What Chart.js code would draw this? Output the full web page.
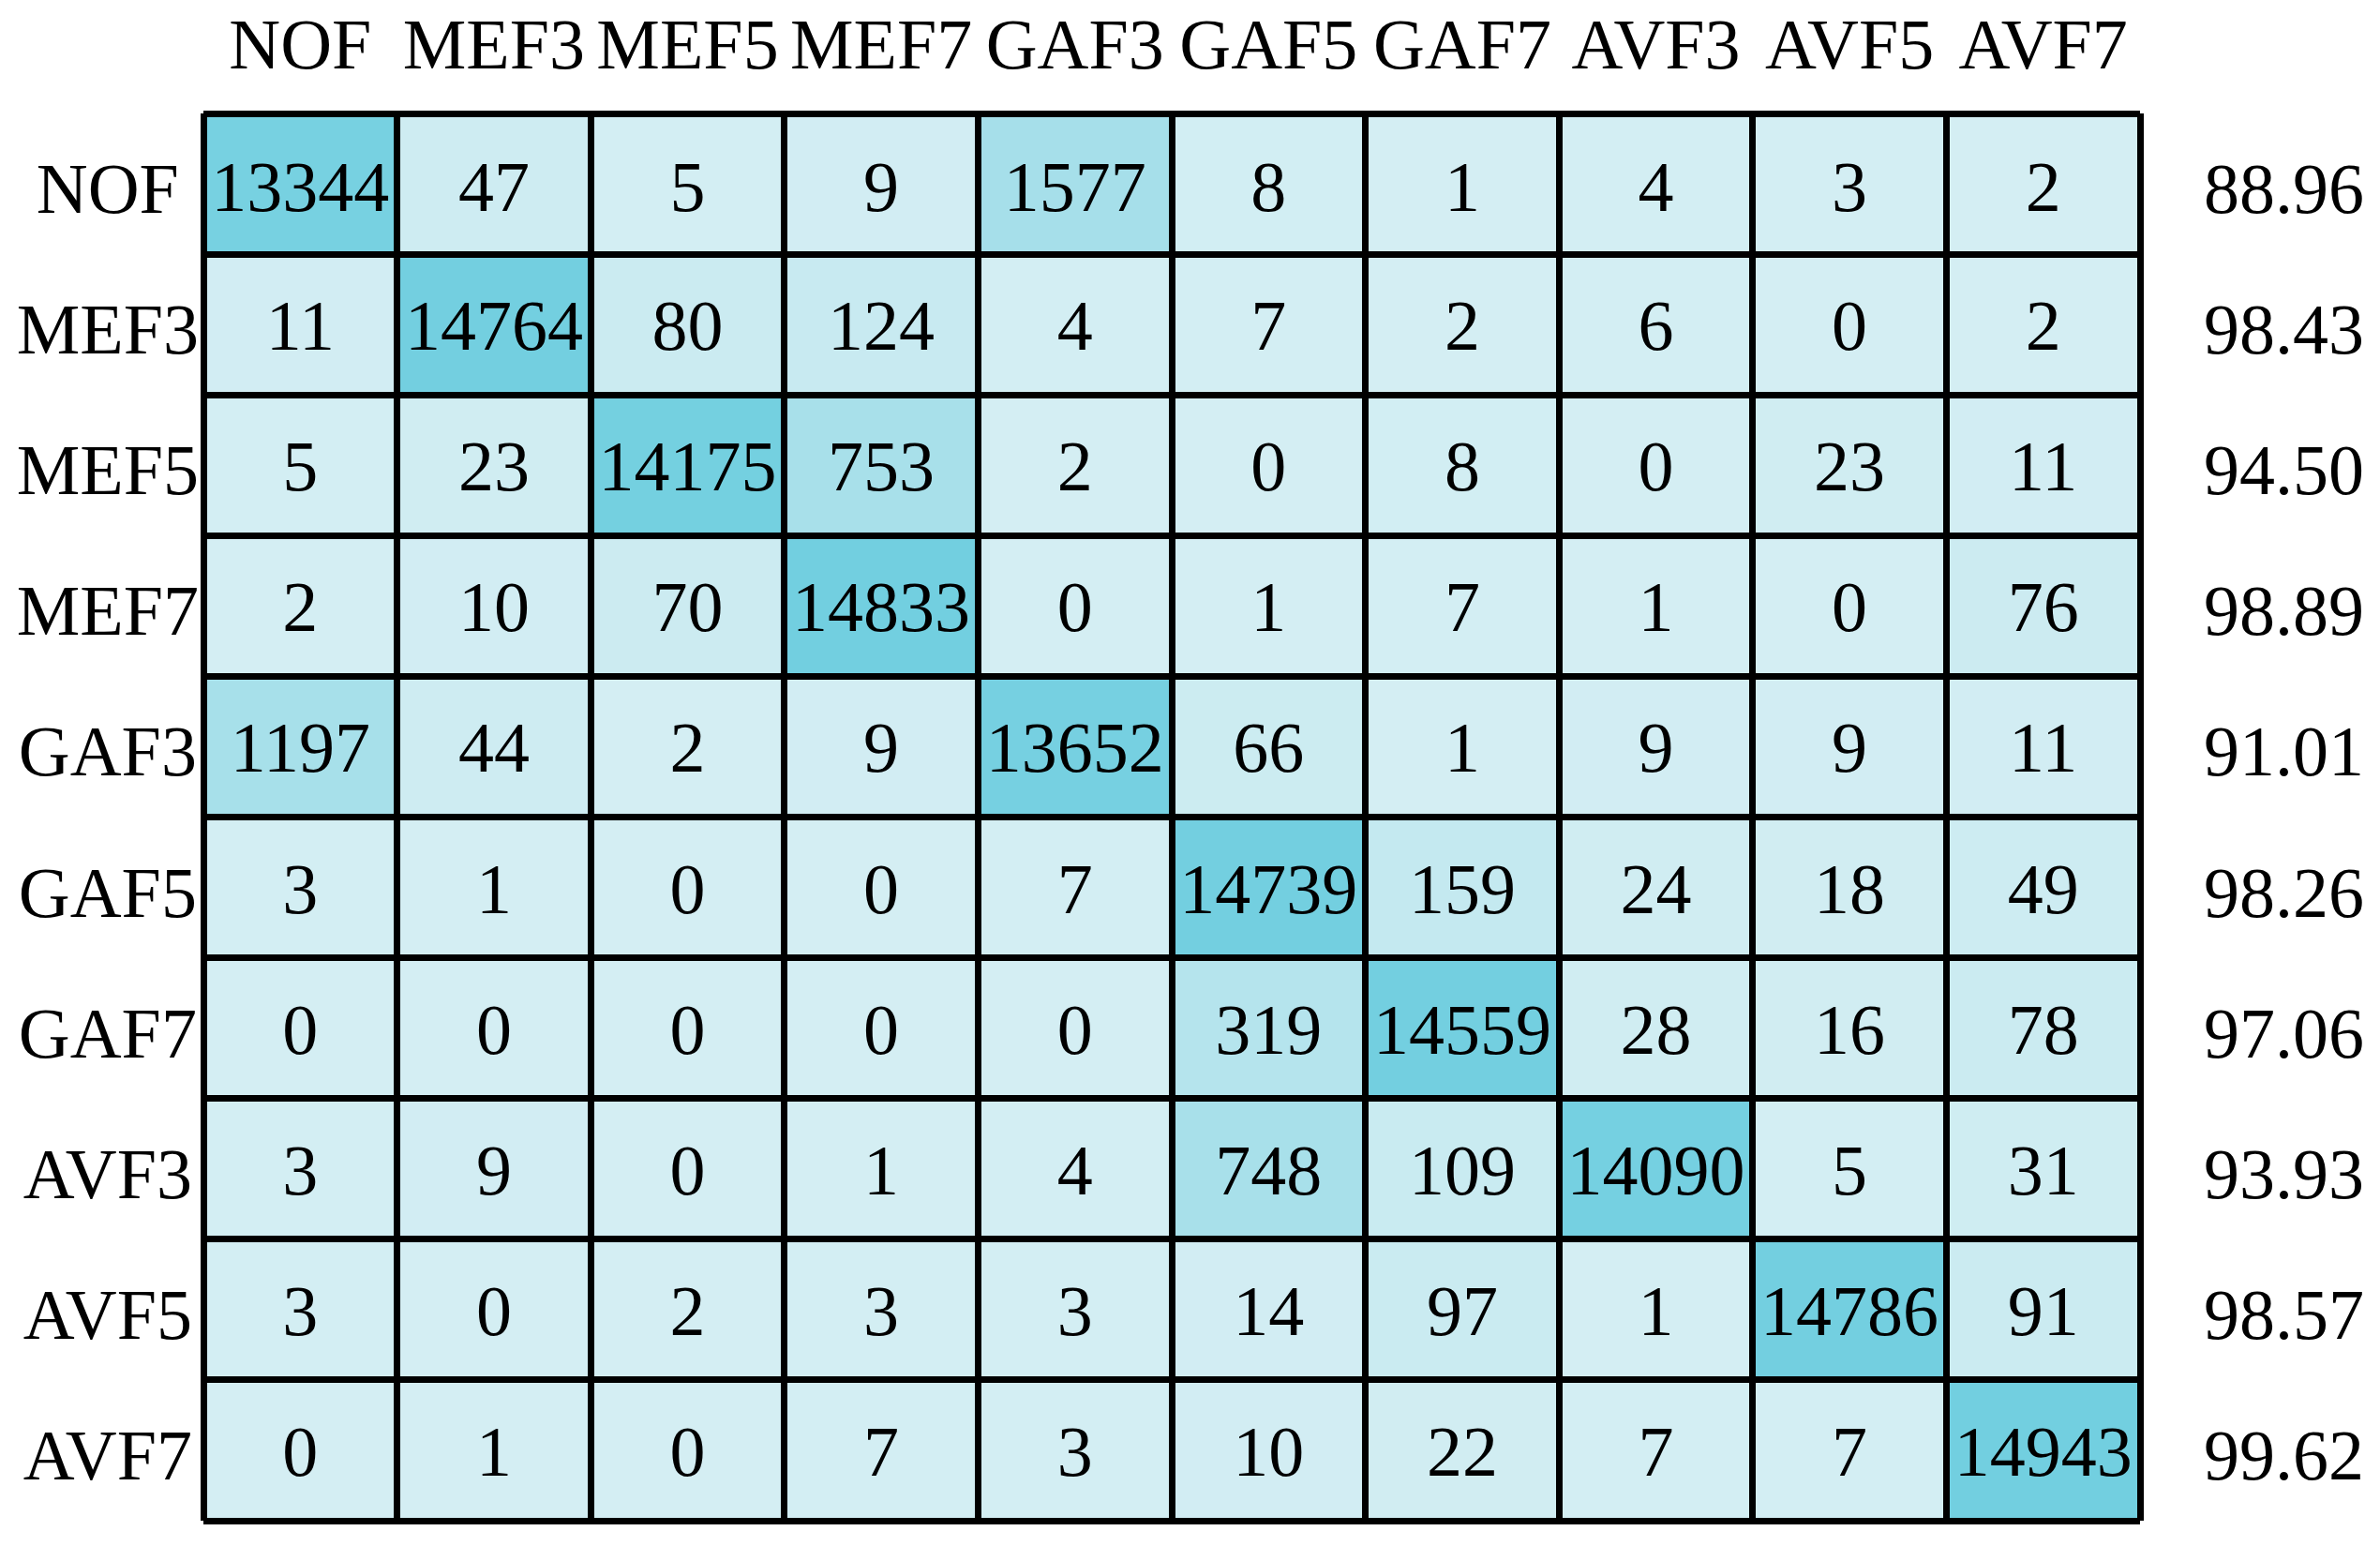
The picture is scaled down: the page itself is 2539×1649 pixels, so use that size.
<!DOCTYPE html>
<html>
<head>
<meta charset="utf-8">
<script src="https://cdn.jsdelivr.net/npm/chart.js@4.4.0/dist/chart.umd.min.js"></script>
<style>
  html, body { margin: 0; padding: 0; background: #fff; }
  #wrap { width: 2539px; height: 1649px; position: relative; }
</style>
</head>
<body>
<div id="wrap"><canvas id="cm-chart"></canvas></div>
<script>
const colLabels = ["NOF", "MEF3", "MEF5", "MEF7", "GAF3", "GAF5", "GAF7", "AVF3", "AVF5", "AVF7"];
const rowLabels = ["NOF", "MEF3", "MEF5", "MEF7", "GAF3", "GAF5", "GAF7", "AVF3", "AVF5", "AVF7"];
const accuracy = ["88.96", "98.43", "94.50", "98.89", "91.01", "98.26", "97.06", "93.93", "98.57", "99.62"];

const rowNOF = [13344, 47, 5, 9, 1577, 8, 1, 4, 3, 2];
const rowMEF3 = [11, 14764, 80, 124, 4, 7, 2, 6, 0, 2];
const rowMEF5 = [5, 23, 14175, 753, 2, 0, 8, 0, 23, 11];
const rowMEF7 = [2, 10, 70, 14833, 0, 1, 7, 1, 0, 76];
const rowGAF3 = [1197, 44, 2, 9, 13652, 66, 1, 9, 9, 11];
const rowGAF5 = [3, 1, 0, 0, 7, 14739, 159, 24, 18, 49];
const rowGAF7 = [0, 0, 0, 0, 0, 319, 14559, 28, 16, 78];
const rowAVF3 = [3, 9, 0, 1, 4, 748, 109, 14090, 5, 31];
const rowAVF5 = [3, 0, 2, 3, 3, 14, 97, 1, 14786, 91];
const rowAVF7 = [0, 1, 0, 7, 3, 10, 22, 7, 7, 14943];

const matrix = [rowNOF, rowMEF3, rowMEF5, rowMEF7, rowGAF3, rowGAF5, rowGAF7, rowAVF3, rowAVF5, rowAVF7];

// colour ramp: light cyan -> deeper cyan
const light = [212, 238, 243];
const dark = [114, 207, 224];
const rampStops = [[0, 0], [10, 0.02], [50, 0.07], [100, 0.1], [160, 0.16], [320, 0.32], [750, 0.45], [1600, 0.47], [13344, 0.95], [15000, 1]];

const cellColor = (v) => {
  let t = 1;
  for (let i = 1; i < rampStops.length; i++) {
    if (v <= rampStops[i][0]) {
      const [v0, t0] = rampStops[i - 1];
      const [v1, t1] = rampStops[i];
      t = t0 + ((v - v0) / (v1 - v0)) * (t1 - t0);
      break;
    }
  }
  const c = light.map((l, k) => Math.round(l + (dark[k] - l) * t));
  return `rgb(${c[0]},${c[1]},${c[2]})`;
};

const FONT = { family: "'Liberation Serif', 'Times New Roman', serif", size: 76 };

const cellText = {
  id: "cellText",
  afterDraw(chart) {
    const ctx = chart.ctx;
    ctx.save();
    ctx.font = `${FONT.size}px ${FONT.family}`;
    ctx.fillStyle = "#000";
    ctx.textAlign = "center";
    ctx.textBaseline = "middle";
    chart.data.datasets.forEach((ds, r) => {
      const meta = chart.getDatasetMeta(r);
      meta.data.forEach((bar, c) => {
        const p = bar.getCenterPoint();
        ctx.fillText(String(matrix[r][c]), p.x, p.y + 7);
      });
    });
    ctx.restore();
  },
};

const datasets = matrix.map((row, r) => ({
  label: rowLabels[r],
  data: row.map(() => 1),
  backgroundColor: row.map(cellColor),
  borderWidth: 0,
  barPercentage: 1,
  categoryPercentage: 1,
  stack: "cm",
}));

// keep the label axes from adding their own edge padding
const noPad = (scale) => {
  scale.paddingTop = 0;
  scale.paddingBottom = 0;
};

new Chart(document.getElementById("cm-chart"), {
  type: "bar",
  data: { labels: colLabels, datasets },
  options: {
    responsive: true,
    maintainAspectRatio: false,
    animation: false,
    layout: { padding: { top: 0, bottom: 27, left: 0, right: 0 } },
    scales: {
      x: {
        type: "category",
        position: "top",
        grid: { offset: true, color: "#000", lineWidth: 7, drawTicks: false, z: 1 },
        border: { display: false },
        ticks: { color: "#000", font: FONT, padding: 22, autoSkip: false, maxRotation: 0 },
        afterFit: (scale) => { scale.height = 121; },
      },
      y: {
        type: "linear",
        position: "left",
        min: 0,
        max: 10,
        reverse: true,
        stacked: true,
        grid: { color: "#000", lineWidth: 7, drawTicks: false, z: 1 },
        border: { display: false },
        ticks: { display: false, stepSize: 1 },
        afterFit: (scale) => { scale.width = 0; noPad(scale); },
      },
      rowAxis: {
        type: "category",
        position: "left",
        labels: rowLabels,
        offset: true,
        grid: { display: false, drawTicks: false },
        border: { display: false },
        ticks: { color: "#000", font: FONT, padding: 5, labelOffset: 11, crossAlign: "center", autoSkip: false },
        afterFit: (scale) => { scale.width = 217; noPad(scale); },
      },
      accAxis: {
        type: "category",
        position: "right",
        labels: accuracy,
        offset: true,
        grid: { display: false, drawTicks: false },
        border: { display: false },
        ticks: { color: "#000", font: FONT, padding: 68, labelOffset: 11, autoSkip: false },
        afterFit: (scale) => { scale.width = 256; noPad(scale); },
      },
    },
    plugins: {
      legend: { display: false },
      tooltip: { enabled: false },
    },
  },
  plugins: [cellText],
});
</script>
</body>
</html>
